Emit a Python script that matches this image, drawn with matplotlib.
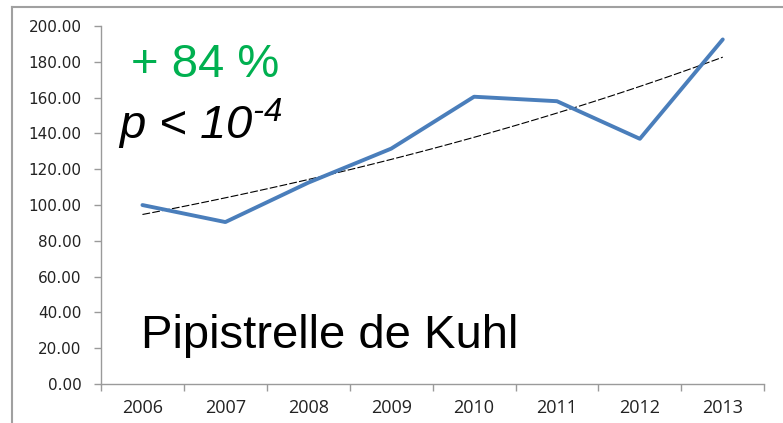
import matplotlib
matplotlib.use('Agg')
import matplotlib.pyplot as plt
from matplotlib.lines import Line2D
import numpy as np

years = ['2006', '2007', '2008', '2009', '2010', '2011', '2012', '2013']
index_values = [100.0, 90.5, 112.5, 131.5, 160.5, 158.0, 137.0, 192.5]
y_ticks = [0, 20, 40, 60, 80, 100, 120, 140, 160, 180, 200]

plt.rcParams['mathtext.fontset'] = 'custom'
plt.rcParams['mathtext.rm'] = 'Liberation Sans:italic'
plt.rcParams['mathtext.it'] = 'Liberation Sans:italic'

fig = plt.figure(figsize=(7.83, 4.23), dpi=100)
ax = fig.add_axes([0.129, 0.092, 0.847, 0.8465])

x = np.arange(len(years))
ax.plot(x, index_values, color='#4a7ebb', lw=2.8, solid_capstyle='round',
        solid_joinstyle='round', zorder=3)

# exponential trend (Excel style)
b, log_a = np.polyfit(x, np.log(index_values), 1)
xs = np.linspace(0, len(years) - 1, 100)
ax.plot(xs, np.exp(log_a + b * xs), color='black', lw=0.8,
        dashes=(7, 2), zorder=2)

ax.set_xlim(-0.5, len(years) - 0.5)
ax.set_ylim(0, 200)
ax.set_yticks(y_ticks)
ax.set_yticklabels([f'{v:.2f}' for v in y_ticks], fontsize=11,
                   family='DejaVu Sans', color='#222222')
ax.set_xticks(x)
ax.set_xticklabels(years, fontsize=13, family='Open Sans', color='#222222')
ax.set_xticks(np.arange(-0.5, len(years)), minor=True)
ax.tick_params(axis='x', which='major', length=0, pad=11)
ax.tick_params(axis='x', which='minor', length=5, color='#9a9a9a', width=1)
ax.tick_params(axis='y', length=5, color='#9a9a9a', width=1, pad=9)

for side in ['top', 'right']:
    ax.spines[side].set_visible(False)
for side in ['left', 'bottom']:
    ax.spines[side].set_color('#9a9a9a')
    ax.spines[side].set_linewidth(1)

ax.text(0.045, 0.89, '+ 84 %', transform=ax.transAxes, color='#00b050',
        fontsize=34, family='Liberation Sans', va='center', ha='left')
ax.text(0.026, 0.725, r'$p$ < 10$^{\text{-4}}$', transform=ax.transAxes,
        color='black', fontsize=34, family='Liberation Sans',
        style='italic', va='center', ha='left')
ax.text(0.06, 0.135, 'Pipistrelle de Kuhl', transform=ax.transAxes,
        color='black', fontsize=34, family='Liberation Sans',
        va='center', ha='left')

# outer frame of the slide box
fig.add_artist(Line2D([12 / 783, 12 / 783], [0, 1 - 7 / 423],
                      transform=fig.transFigure, color='#a0a0a0', lw=1.5))
fig.add_artist(Line2D([12 / 783, 1], [1 - 7 / 423, 1 - 7 / 423],
                      transform=fig.transFigure, color='#a0a0a0', lw=1.5))

fig.savefig('out.png', dpi=100)
